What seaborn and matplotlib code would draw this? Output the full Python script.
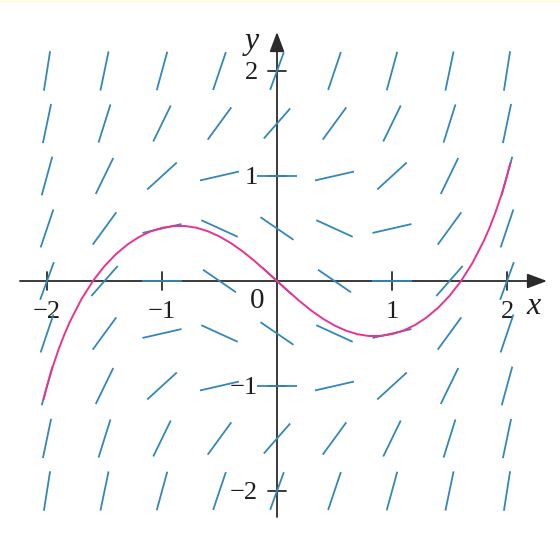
import matplotlib
matplotlib.use("Agg")
import numpy as np
import pandas as pd
import matplotlib.pyplot as plt
import seaborn as sns
from matplotlib.collections import LineCollection
from matplotlib.patches import Rectangle

# Direction field for y' = x^2 + y^2 - 1 on a 0.5-spaced grid
grid_x = [-2.0, -1.5, -1.0, -0.5, 0.0, 0.5, 1.0, 1.5, 2.0]
grid_y = [2.0, 1.5, 1.0, 0.5, 0.0, -0.5, -1.0, -1.5, -2.0]
slopes = [
    [7.00, 5.25, 4.00, 3.25, 3.00, 3.25, 4.00, 5.25, 7.00],
    [5.25, 3.50, 2.25, 1.50, 1.25, 1.50, 2.25, 3.50, 5.25],
    [4.00, 2.25, 1.00, 0.25, 0.00, 0.25, 1.00, 2.25, 4.00],
    [3.25, 1.50, 0.25, -0.50, -0.75, -0.50, 0.25, 1.50, 3.25],
    [3.00, 1.25, 0.00, -0.75, -1.00, -0.75, 0.00, 1.25, 3.00],
    [3.25, 1.50, 0.25, -0.50, -0.75, -0.50, 0.25, 1.50, 3.25],
    [4.00, 2.25, 1.00, 0.25, 0.00, 0.25, 1.00, 2.25, 4.00],
    [5.25, 3.50, 2.25, 1.50, 1.25, 1.50, 2.25, 3.50, 5.25],
    [7.00, 5.25, 4.00, 3.25, 3.00, 3.25, 4.00, 5.25, 7.00],
]

# Solution curve through the origin
curve_x = [-2.03, -2.0, -1.95, -1.9, -1.85, -1.8, -1.7, -1.6, -1.5, -1.4, -1.3,
           -1.2, -1.1, -1.0, -0.9, -0.8, -0.7, -0.6, -0.5, -0.4, -0.3, -0.2,
           -0.1, 0.0, 0.1, 0.2, 0.3, 0.4, 0.5, 0.6, 0.7, 0.8, 0.9, 1.0, 1.1,
           1.2, 1.3, 1.4, 1.5, 1.6, 1.7, 1.8, 1.85, 1.9, 1.95, 2.0, 2.03]
curve_y = [-1.126, -1.002, -0.816, -0.654, -0.512, -0.386, -0.172, 0.001, 0.142,
           0.256, 0.348, 0.419, 0.472, 0.506, 0.523, 0.524, 0.507, 0.473, 0.424,
           0.360, 0.283, 0.195, 0.099, 0.0, -0.099, -0.195, -0.283, -0.360,
           -0.424, -0.473, -0.507, -0.524, -0.523, -0.506, -0.472, -0.419,
           -0.348, -0.256, -0.142, -0.001, 0.172, 0.386, 0.512, 0.654, 0.816,
           1.002, 1.126]

tick_values = [-2, -1, 1, 2]
tick_labels = ["\u22122", "\u22121", "1", "2"]

sns.set_style("white")
plt.rcParams["font.family"] = ["Liberation Serif", "DejaVu Serif"]

W, H = 560, 549
fig = plt.figure(figsize=(W / 100, H / 100), dpi=100)
fig.patch.set_facecolor("white")
fig.patches.append(Rectangle((0, 1 - 3 / H), 1, 3 / H, transform=fig.transFigure,
                            facecolor="#fffde3", edgecolor="none"))

ax = fig.add_axes([0, 0, 1, 1])
xmin, xmax = -277 / 115, (W - 277) / 115
ymin, ymax = (281 - H) / 105, 281 / 105
ax.set_xlim(xmin, xmax)
ax.set_ylim(ymin, ymax)
ax.axis("off")

sx = W / (xmax - xmin)   # pixels per unit in x
sy = H / (ymax - ymin)   # pixels per unit in y

axis_col = "#2b2b2b"
seg_col = "#3487b9"
curve_col = "#e8338f"
text_col = "#1e1e1e"

# axes with arrow heads
arrow_kw = dict(arrowstyle="-|>,head_length=1.2,head_width=0.45",
                color=axis_col, lw=1.3, shrinkA=0, shrinkB=0,
                mutation_scale=10)
ax.annotate("", xy=(547 / sx + xmin, 0), xytext=(20 / sx + xmin, 0),
            arrowprops=arrow_kw, zorder=2)
ax.annotate("", xy=(0, ymax - 32 / sy), xytext=(0, ymax - 517 / sy),
            arrowprops=arrow_kw, zorder=2)

# tick marks crossing the axes
tx, ty = 9 / sx, 9 / sy
for v in tick_values:
    ax.plot([v, v], [-ty, ty], color=axis_col, lw=1.3, zorder=2)
    ax.plot([-tx, tx], [v, v], color=axis_col, lw=1.3, zorder=2)

fs = 19
for v, lab in zip(tick_values, tick_labels):
    ax.text(v, -31 / sy, lab, ha="center", va="center", fontsize=fs, color=text_col)
    ax.text(-19 / sx, v - 2 / sy, lab, ha="right", va="center", fontsize=fs,
            color=text_col)
ax.text(-20 / sx, -20 / sy, "0", ha="center", va="center", fontsize=fs + 2,
        color=text_col)
ax.text(-25 / sx, ymax - 41 / sy, "y", ha="center", va="center", fontsize=23,
        style="italic", color=text_col)
ax.text(257 / sx, -25 / sy, "x", ha="center", va="center", fontsize=23,
        style="italic", color=text_col)

# slope segments of equal on-screen length
half = 20.0
segs = []
for i, yv in enumerate(grid_y):
    for j, xv in enumerate(grid_x):
        m = slopes[i][j]
        ang = np.arctan2(m * sy, sx)
        dx = half * np.cos(ang) / sx
        dy = half * np.sin(ang) / sy
        segs.append([(xv - dx, yv - dy), (xv + dx, yv + dy)])
ax.add_collection(LineCollection(segs, colors=seg_col, linewidths=1.3, zorder=3))

# solution curve
df = pd.DataFrame({"x": curve_x, "y": curve_y})
sns.lineplot(data=df, x="x", y="y", sort=False, estimator=None, color=curve_col,
             lw=1.4, ax=ax, zorder=4)
ax.set_xlim(xmin, xmax)
ax.set_ylim(ymin, ymax)
ax.axis("off")

fig.savefig("out.png", dpi=100)
